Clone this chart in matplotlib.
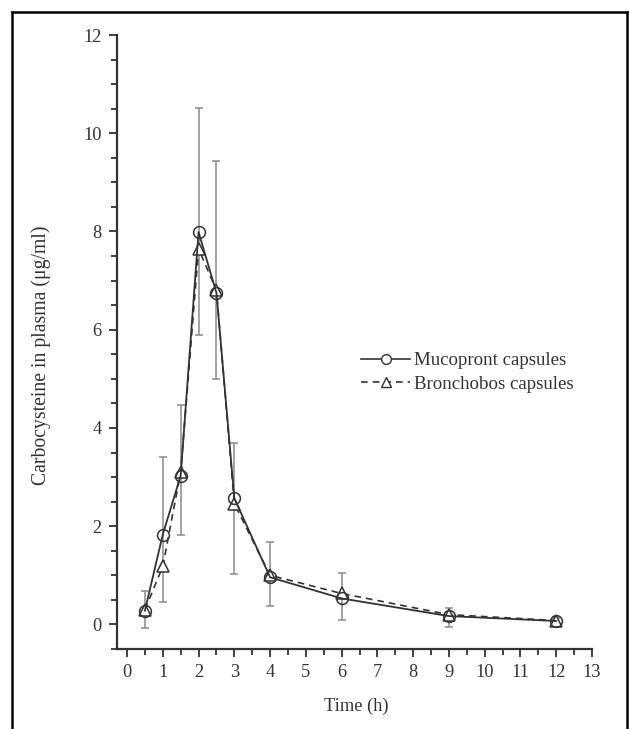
import matplotlib
matplotlib.use("Agg")
import matplotlib.pyplot as plt
from matplotlib.lines import Line2D
from matplotlib.ticker import MultipleLocator
import numpy as np

time_h = [0.5, 1, 1.5, 2, 2.5, 3, 4, 6, 9, 12]
mucopront = [0.28, 1.83, 3.03, 7.99, 6.75, 2.57, 0.96, 0.53, 0.17, 0.07]
bronchobos = [0.30, 1.18, 3.10, 7.65, 6.80, 2.46, 1.00, 0.63, 0.20, 0.08]
err_low = [-0.08, 0.45, 1.83, 5.90, 4.99, 1.02, 0.37, 0.10, -0.05, 0.02]
err_high = [0.68, 3.40, 4.46, 10.52, 9.44, 3.69, 1.67, 1.05, 0.33, 0.13]

x_ticks = list(range(0, 14))
y_ticks = [0, 2, 4, 6, 8, 10, 12]

plt.rcParams['font.family'] = ['Liberation Serif', 'DejaVu Serif']

fig = plt.figure(figsize=(6.29, 7.29), dpi=100)
W, H = 629, 729
ax_l, ax_r, ax_t, ax_b = 117, 592, 35, 649
ax = fig.add_axes([ax_l/W, (H-ax_b)/H, (ax_r-ax_l)/W, (ax_b-ax_t)/H])

ink = '#333333'
fs = 13.2
mid = np.array(mucopront)
lo = mid - np.array(err_low)
hi = np.array(err_high) - mid
ax.errorbar(time_h, mid, yerr=[lo, hi], fmt='none', ecolor='#8a8a8a',
            elinewidth=1.1, capsize=2.6, capthick=1.1, zorder=1)

ax.plot(time_h, bronchobos, linestyle=(0, (4, 3)), color=ink, lw=1.2,
        marker='^', markersize=9, markerfacecolor='white',
        markeredgecolor=ink, markeredgewidth=1.1, zorder=2)
ax.plot(time_h, mucopront, linestyle='-', color=ink, lw=1.3,
        marker='o', markersize=8.5, markerfacecolor='none',
        markeredgecolor=ink, markeredgewidth=1.1, zorder=3)

ax.set_xlim(-0.28, 13)
ax.set_ylim(-0.5, 12)
ax.set_xticks(x_ticks)
ax.set_yticks(y_ticks)
ax.xaxis.set_minor_locator(MultipleLocator(0.5))
ax.yaxis.set_minor_locator(MultipleLocator(0.5))
ax.tick_params(which='major', direction='out', length=6, width=1.3, color=ink,
               labelsize=fs, labelcolor='#333333', pad=5)
ax.tick_params(which='minor', direction='out', length=4, width=1.3, color=ink)

for s in ['top', 'right']:
    ax.spines[s].set_visible(False)
for s in ['left', 'bottom']:
    ax.spines[s].set_linewidth(1.6)
    ax.spines[s].set_color(ink)

ax.set_xlabel('Time (h)', fontsize=fs, color='#333333', va='center')
ax.xaxis.set_label_coords((356-ax_l)/(ax_r-ax_l), (ax_b-706)/(ax_b-ax_t))
ax.set_ylabel('Carbocysteine in plasma (μg/ml)', fontsize=14.2,
              color='#333333', va='center')
ax.yaxis.set_label_coords((41-ax_l)/(ax_r-ax_l), (ax_b-355)/(ax_b-ax_t))

handles = [
    Line2D([], [], linestyle='-', color=ink, lw=1.2, marker='o', markersize=7,
           markerfacecolor='white', markeredgecolor=ink),
    Line2D([], [], linestyle=(0, (4, 3)), color=ink, lw=1.2, marker='^',
           markersize=7, markerfacecolor='white', markeredgecolor=ink),
]
ax.legend(handles, ['Mucopront capsules', 'Bronchobos capsules'],
          loc='upper left',
          bbox_to_anchor=((344-ax_l)/(ax_r-ax_l), (ax_b-335)/(ax_b-ax_t)),
          frameon=False, fontsize=13.6, handlelength=2.6, handletextpad=0.2,
          labelspacing=0.35, labelcolor='#333333')

# figure border (open at bottom)
border = dict(color='black', lw=1.8, transform=fig.transFigure, clip_on=False)
l, r, t = 12/W, 627/W, 1 - 12/H
fig.add_artist(Line2D([l, l], [0, t], **border))
fig.add_artist(Line2D([l, r], [t, t], **border))
fig.add_artist(Line2D([r, r], [0, t], **border))

fig.savefig('out.png', dpi=100)
